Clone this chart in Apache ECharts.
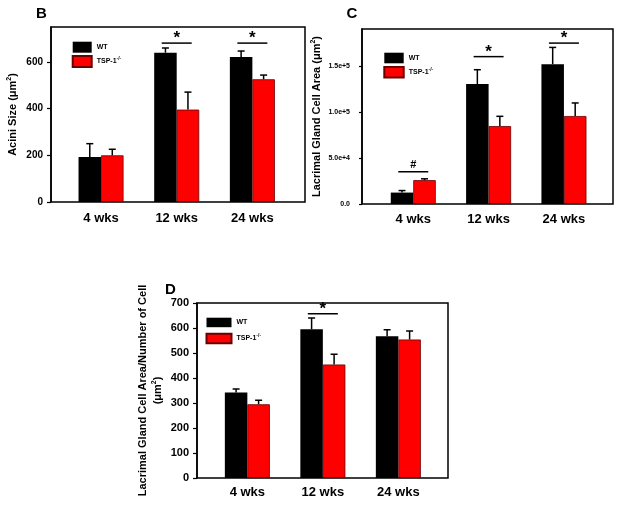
<!DOCTYPE html>
<html><head><meta charset="utf-8">
<script src="https://cdn.jsdelivr.net/npm/echarts@6/dist/echarts.min.js"></script>
<style>html,body{margin:0;padding:0;background:#fff}#c{width:618px;height:506px}</style>
</head><body><div id="c"></div>
<script>
// ---------- data ----------
const categories = ['4 wks', '12 wks', '24 wks'];
const groupNames = ['WT', 'TSP-1'];

// Panel B: Acini size
const bWT = [193, 640, 621];
const bWTErr = [57, 20, 26];
const bKO = [200, 396, 526];
const bKOErr = [26, 75, 18];
const bSigY = [null, 681, 681];
const bSigMark = ['', '*', '*'];
const bTicks = [0, 200, 400, 600];

// Panel C: Lacrimal gland cell area
const cWT = [12400, 130200, 151800];
const cWTErr = [2200, 15600, 18200];
const cKO = [25900, 84600, 95500];
const cKOErr = [1450, 10600, 14200];
const cSigY = [35000, 160000, 174700];
const cSigMark = ['#', '*', '*'];
const cTicks = [0, 50000, 100000, 150000];
const cTickLabels = ['0.0', '5.0e+4', '1.0e+5', '1.5e+5'];

// Panel D: cell area / number of cells
const dWT = [342, 595, 567];
const dWTErr = [14, 45, 26];
const dKO = [295, 454, 554];
const dKOErr = [16, 41, 34];
const dSigY = [null, 657, null];
const dSigMark = ['', '*', ''];
const dTicks = [0, 100, 200, 300, 400, 500, 600, 700];

// ---------- layout ----------
const FONT = 'Arial, "Liberation Sans", sans-serif';
const BW = 22.5;
const panels = [
  { letter: 'B', letterPos: [36, 6], wt: bWT, wtErr: bWTErr, ko: bKO, koErr: bKOErr, sigY: bSigY, sigMark: bSigMark,
    ticks: bTicks, tickLabels: null, max: 750, frame: { left: 51, top: 27, width: 254, height: 175 },
    barLeft: 63.2, barWidth: 227, name: 'Acini Size (μm{s|2})', nameGap: 31, tickFont: 10, tickMargin: 8, tickLen: 4,
    legend: { left: 71.7, top: 41.7, w: 19, h: 11, gap: 2.3 }, labelMargin: 10 },
  { letter: 'C', letterPos: [346.5, 6], wt: cWT, wtErr: cWTErr, ko: cKO, koErr: cKOErr, sigY: cSigY, sigMark: cSigMark,
    ticks: cTicks, tickLabels: cTickLabels, max: 190000, frame: { left: 362, top: 29, width: 251, height: 175 },
    barLeft: 375.6, barWidth: 226, name: 'Lacrimal Gland Cell Area (μm{s|2})', nameGap: 38, tickFont: 7, tickMargin: 12, tickLen: 3,
    legend: { left: 383.3, top: 52.7, w: 19.4, h: 10.6, gap: 2.7 }, labelMargin: 9 },
  { letter: 'D', letterPos: [165, 282], wt: dWT, wtErr: dWTErr, ko: dKO, koErr: dKOErr, sigY: dSigY, sigMark: dSigMark,
    ticks: dTicks, tickLabels: null, max: 700, frame: { left: 197, top: 303, width: 251, height: 175 },
    barLeft: 209.6, barWidth: 226.5, name: 'Lacrimal Gland Cell Area/Number of Cell\n(μm{s|2})', nameGap: 32, tickFont: 11, tickMargin: 8, tickLen: 4,
    legend: { left: 205.5, top: 317.7, w: 25, h: 9.5, gap: 5.5 }, labelMargin: 8 }
];

const grid = [], xAxis = [], yAxis = [], series = [], legend = [], graphic = [];

function errSeries(gi, vals, errs, side) {
  return {
    type: 'custom', xAxisIndex: gi, yAxisIndex: gi, z: 5, silent: true,
    data: vals.map((v, i) => [i, v, errs[i]]),
    renderItem: function (params, api) {
      const c = api.coord([api.value(0), api.value(1)]);
      const t = api.coord([api.value(0), api.value(1) + api.value(2)]);
      const x = c[0] + side * BW / 2;
      return { type: 'group', children: [
        { type: 'line', shape: { x1: x, y1: c[1], x2: x, y2: t[1] }, style: { stroke: '#000', lineWidth: 1.5 } },
        { type: 'line', shape: { x1: x - 3.5, y1: t[1], x2: x + 3.5, y2: t[1] }, style: { stroke: '#000', lineWidth: 1.5 } }
      ] };
    }
  };
}

function sigSeries(gi, sigY, marks) {
  return {
    type: 'custom', xAxisIndex: gi, yAxisIndex: gi, z: 6, silent: true,
    data: sigY.map((v, i) => [i, v]).filter(d => d[1] != null),
    renderItem: function (params, api) {
      const idx = api.value(0);
      const p = api.coord([idx, api.value(1)]);
      const m = marks[idx];
      const isStar = m === '*';
      return { type: 'group', children: [
        { type: 'line', shape: { x1: p[0] - 15, y1: p[1], x2: p[0] + 15, y2: p[1] }, style: { stroke: '#000', lineWidth: 1.5 } },
        { type: 'text', x: p[0], y: isStar ? p[1] - 13 : p[1] - 1.5,
          style: { text: m, fill: '#000', fontFamily: FONT, fontWeight: 'bold', fontSize: isStar ? 17 : 11,
                   align: 'center', verticalAlign: isStar ? 'top' : 'bottom' } }
      ] };
    }
  };
}

panels.forEach((P, k) => {
  const gi = k * 2, fi = k * 2 + 1;
  const f = P.frame;
  grid[gi] = { left: P.barLeft, top: f.top, width: P.barWidth, height: f.height, containLabel: false };
  grid[fi] = { left: f.left, top: f.top, width: f.width, height: f.height, show: true,
               borderColor: '#000', borderWidth: 1.5, backgroundColor: 'rgba(0,0,0,0)' };
  xAxis[gi] = { gridIndex: gi, type: 'category', data: categories, boundaryGap: true,
    axisLine: { show: false }, axisTick: { show: false },
    axisLabel: { fontFamily: FONT, fontWeight: 'bold', fontSize: 13, color: '#000', margin: P.labelMargin } };
  xAxis[fi] = { gridIndex: fi, type: 'value', show: false };
  const offset = P.barLeft - f.left;
  yAxis[gi] = { gridIndex: gi, type: 'value', min: 0, max: P.max, offset: offset,
    axisLine: { show: true, lineStyle: { color: '#000', width: 1.5 } },
    axisTick: { show: true, inside: false, length: P.tickLen, customValues: P.ticks, lineStyle: { color: '#000', width: 1.2 } },
    axisLabel: { customValues: P.ticks, fontFamily: FONT, fontWeight: 'bold', fontSize: P.tickFont, color: '#000', margin: P.tickMargin,
      formatter: v => P.tickLabels ? P.tickLabels[P.ticks.indexOf(v)] : String(v) },
    splitLine: { show: false },
    name: P.name, nameLocation: 'middle', nameRotate: 90, nameGap: P.nameGap,
    nameTextStyle: { fontFamily: FONT, fontWeight: 'bold', fontSize: 11, color: '#000', lineHeight: 15, align: 'center',
      rich: { s: { fontFamily: FONT, fontWeight: 'bold', fontSize: 7, padding: [0, 0, 6, 0] } } } };
  yAxis[fi] = { gridIndex: fi, type: 'value', show: false };

  series.push({ name: groupNames[0], type: 'bar', xAxisIndex: gi, yAxisIndex: gi, data: P.wt, barWidth: BW, barGap: '0%',
    itemStyle: { color: '#000' } });
  series.push({ name: groupNames[1], type: 'bar', xAxisIndex: gi, yAxisIndex: gi, data: P.ko, barWidth: BW, barGap: '0%',
    itemStyle: { color: '#ff0000', borderColor: '#6a0000', borderWidth: 0.8 } });
  series.push(errSeries(gi, P.wt, P.wtErr, -1));
  series.push(errSeries(gi, P.ko, P.koErr, 1));
  series.push(sigSeries(gi, P.sigY, P.sigMark));

  legend.push({ orient: 'vertical', left: P.legend.left, top: P.legend.top, padding: 0,
    itemWidth: P.legend.w, itemHeight: P.legend.h, itemGap: P.legend.gap, icon: 'rect', selectedMode: false,
    data: groupNames,
    formatter: n => n === 'TSP-1' ? 'TSP-1{s|-/-}' : n,
    textStyle: { fontFamily: FONT, fontWeight: 'bold', fontSize: 7, color: '#000',
      rich: { s: { fontFamily: FONT, fontWeight: 'bold', fontSize: 5, color: '#000', padding: [0, 0, 5, 0] } } } });

  graphic.push({ type: 'text', left: P.letterPos[0], top: P.letterPos[1],
    style: { text: P.letter, fontFamily: FONT, fontWeight: 'bold', fontSize: 15, fill: '#000' } });
});

const chart = echarts.init(document.getElementById('c'), null, { renderer: 'canvas' });
chart.setOption({ animation: false, backgroundColor: '#fff', textStyle: { fontFamily: FONT },
  grid, xAxis, yAxis, series, legend, graphic });
</script>
</body></html>
